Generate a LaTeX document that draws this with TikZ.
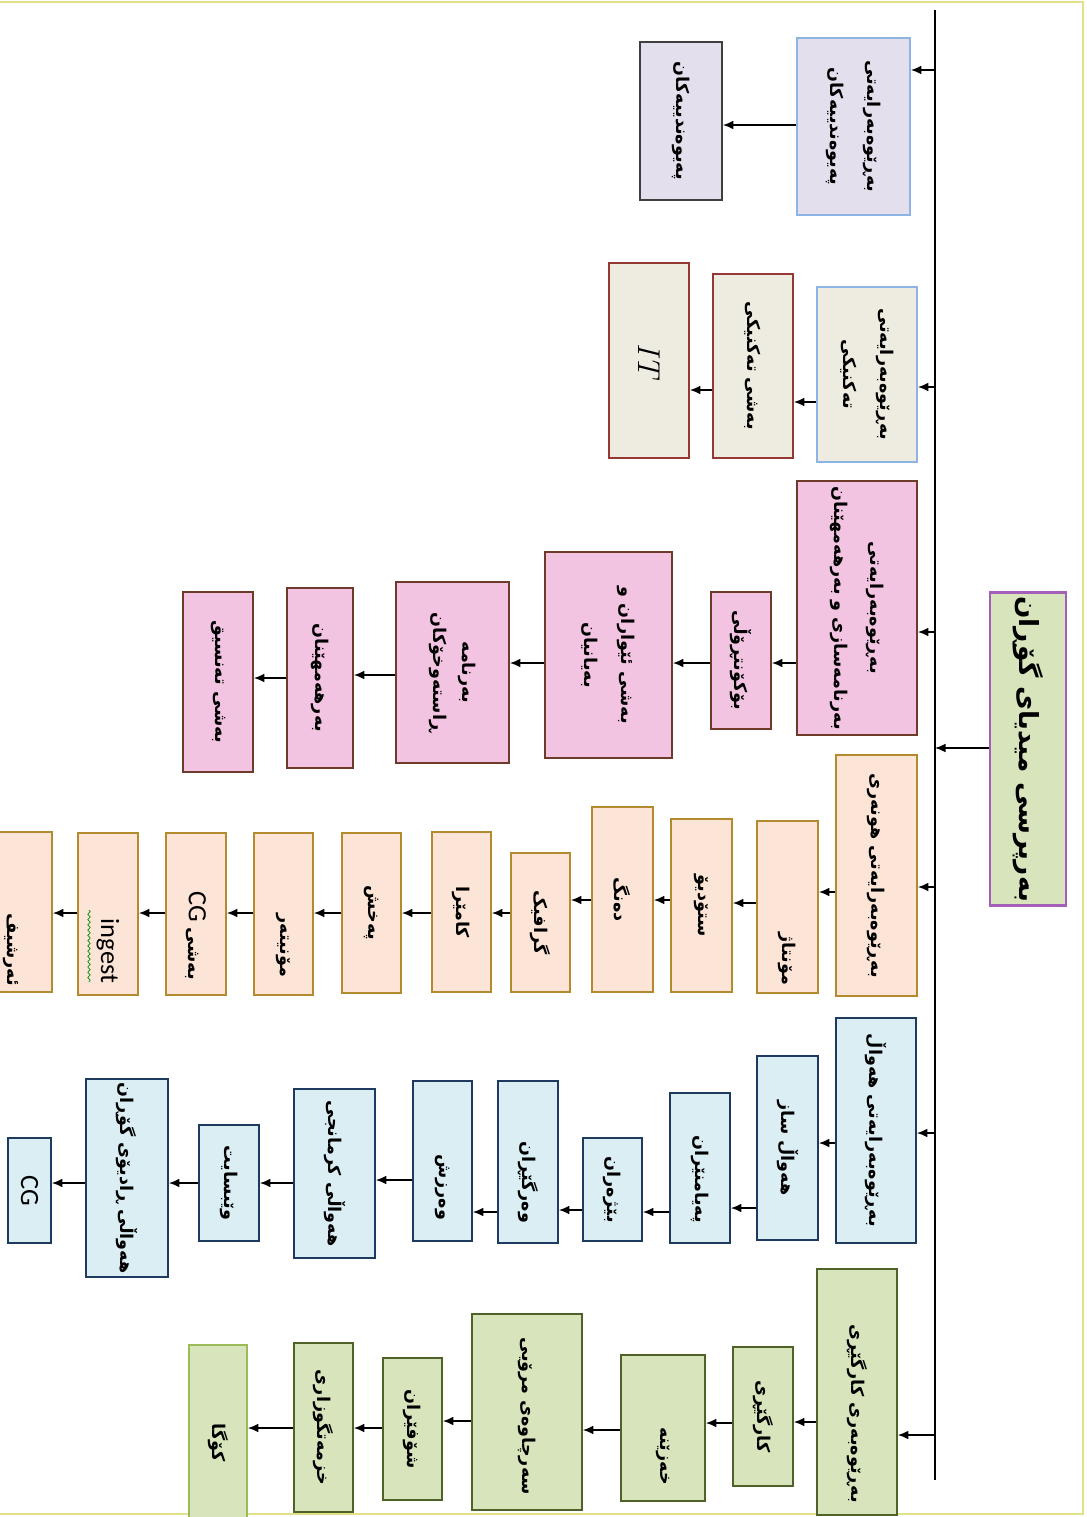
\documentclass[tikz,border=0pt]{standalone}
\usepackage{fontspec}
\usetikzlibrary{arrows.meta,decorations.pathmorphing}
\TeXXeTstate=1
\newfontfamily\kufont[Script=Arabic]{DejaVu Sans}
\newfontfamily\cgfont{Carlito}
\newcommand\ku[1]{\beginR#1\endR}
\newcommand\lat[1]{{\cgfont\mdseries\fontsize{15}{18}\selectfont #1}}
\definecolor{lavfill}{HTML}{E4DFEC}
\definecolor{beigefill}{HTML}{EEECE1}
\definecolor{pinkfill}{HTML}{F2C4E2}
\definecolor{peachfill}{HTML}{FCE4D6}
\definecolor{bluefill}{HTML}{DBEEF4}
\definecolor{greenfill}{HTML}{D7E4BC}
\definecolor{skyline}{HTML}{8DB4E2}
\definecolor{grayline}{HTML}{3F3F3F}
\definecolor{maroonline}{HTML}{953735}
\definecolor{brownline}{HTML}{6E3B2A}
\definecolor{goldline}{HTML}{B38B2E}
\definecolor{navyline}{HTML}{1F3A5F}
\definecolor{oliveline}{HTML}{4F6228}
\definecolor{paleolive}{HTML}{9BBB59}
\definecolor{purpleline}{HTML}{A55FB8}
\definecolor{framecol}{HTML}{E3E08A}
\begin{document}
\begin{tikzpicture}[x=0.02cm, y=-0.02cm,
	cell/.style={draw, rotate=-90, line width=1pt, inner sep=2pt, align=center, font=\kufont\bfseries\fontsize{10}{12}\selectfont},
	sz/.style 2 args={minimum width=#2*0.02cm, minimum height=#1*0.02cm},
	tail/.style={text width=#1, align=right},
	lavbox/.style={cell, fill=lavfill, draw=grayline},
	techbox/.style={cell, fill=beigefill, draw=maroonline},
	progbox/.style={cell, fill=pinkfill, draw=brownline},
	artbox/.style={cell, fill=peachfill, draw=goldline},
	newsbox/.style={cell, fill=bluefill, draw=navyline},
	adminbox/.style={cell, fill=greenfill, draw=oliveline},
	headline/.style={draw=skyline},
	arr/.style={-{Latex[length=6pt,width=5pt]}, line width=0.8pt},
	squig/.style={draw=green!55!black, decorate, decoration={snake, amplitude=0.7pt, segment length=3pt}}]
	\useasboundingbox (0,0) rectangle (1086,1517);
	\clip (0,0) rectangle (1086,1517);
	\draw[framecol, line width=1.2pt] (-10,2) rectangle (1083,1514);
	\coordinate (bustop) at (935,10);
	\coordinate (busend) at (935,1480);
	\draw[line width=1.1pt] (bustop) -- (busend);
	\node[cell, fill=greenfill, draw=purpleline, line width=1.4pt, sz={76}{312}, font=\kufont\bfseries\fontsize{15}{18}\selectfont] (root) at (1028,749) {\ku{بەرپرسی میدیای گۆڕان}};
	\draw[arr] (root.south |- 0,748) -- (bustop |- 0,748);

	\node[lavbox, headline, sz={113}{177}] (h1) at (853.5,126.5) {\ku{بەڕێوەبەرایەتی}\\[9pt]\ku{پەیوەندییەکان}};
	\node[lavbox, sz={82}{158}] (p1) at (681,121) {\ku{پەیوەندییەکان}};
	\draw[arr] (bustop |- 0,70) -- (h1.north |- 0,70);
	\draw[arr] (h1.south |- 0,125) -- (p1.north |- 0,125);

	\node[techbox, headline, sz={100}{175}] (h2) at (867,374.5) {\ku{بەڕێوەبەرایەتی}\\[9pt]\ku{تەکنیکی}};
	\node[techbox, sz={80}{184}] (t1) at (753,366) {\ku{بەشی تەکنیکی}};
	\node[techbox, sz={80}{195}] (it) at (649,360.5) {{\normalfont\itshape\fontsize{18}{20}\selectfont IT}};
	\draw[arr] (bustop |- 0,387) -- (h2.north |- 0,387);
	\draw[arr] (h2.south |- 0,402) -- (t1.north |- 0,402);
	\draw[arr] (t1.south |- 0,390) -- (it.north |- 0,390);

	\node[progbox, sz={120}{254}] (h3) at (857,608) {\ku{بەڕێوەبەرایەتی}\\[9pt]\ku{بەرنامەسازی و بەرهەمهێنان}};
	\node[progbox, sz={60}{137}] (k1) at (741,660.5) {\ku{بۆکۆنتڕۆڵی}};
	\node[progbox, sz={127}{206}] (k2) at (608.5,655) {\ku{بەشی ئێواران و}\\[9pt]\ku{بەیانیان}};
	\node[progbox, sz={113}{181}] (k3) at (452.5,672.5) {\ku{بەرنامە}\\[5pt]\ku{ڕاستەوخۆکان}};
	\node[progbox, sz={66}{180}] (k4) at (320,678) {\ku{بەرهەمهێنان}};
	\node[progbox, sz={70}{180}] (k5) at (218,682) {\ku{بەشی تەنسیق}};
	\draw[arr] (bustop |- 0,632) -- (h3.north |- 0,632);
	\draw[arr] (h3.south |- 0,663) -- (k1.north |- 0,663);
	\draw[arr] (k1.south |- 0,663) -- (k2.north |- 0,663);
	\draw[arr] (k2.south |- 0,663) -- (k3.north |- 0,663);
	\draw[arr] (k3.south |- 0,675) -- (k4.north |- 0,675);
	\draw[arr] (k4.south |- 0,678) -- (k5.north |- 0,678);

	\node[artbox, sz={81}{241}] (h4) at (876.5,875.5) {\ku{بەڕێوەبەرایەتی هونەری}};
	\node[artbox, sz={61}{172}, tail=3.12cm] (o1) at (787.5,907) {\ku{مۆنتاژ}};
	\node[artbox, sz={61}{173}] (o2) at (701.5,905.5) {\ku{ستۆدیۆ}};
	\node[artbox, sz={61}{185}] (o3) at (622.5,899.5) {\ku{دەنگ}};
	\node[artbox, sz={59}{139}] (o4) at (540.5,922.5) {\ku{گرافیک}};
	\node[artbox, sz={59}{160}] (o5) at (461.5,912) {\ku{کامێرا}};
	\node[artbox, sz={59}{160}] (o6) at (371.5,913) {\ku{پەخش}};
	\node[artbox, sz={59}{162}, tail=2.52cm] (o7) at (283.5,914) {\ku{مۆنیتەر}};
	\node[artbox, sz={60}{162}, tail=2.64cm] (o8) at (196,914) {\ku{بەشی \beginL\lat{CG}\endL}};
	\node[artbox, sz={60}{162}, tail=2.76cm] (o9) at (108,914) {\lat{ingest}};
	\node[artbox, sz={82}{160}, tail=2.96cm] (o10) at (11,912) {\ku{ئەرشیف}};
	\draw[squig] ([shift={(-19,-4)}]o9.center) -- ([shift={(-19,68)}]o9.center);
	\draw[arr] (bustop |- 0,887) -- (h4.north |- 0,887);
	\draw[arr] (h4.south |- 0,892) -- (o1.north |- 0,892);
	\draw[arr] (o1.south |- 0,903) -- (o2.north |- 0,903);
	\draw[arr] (o2.south |- 0,900) -- (o3.north |- 0,900);
	\draw[arr] (o3.south |- 0,900) -- (o4.north |- 0,900);
	\draw[arr] (o4.south |- 0,913) -- (o5.north |- 0,913);
	\draw[arr] (o5.south |- 0,913) -- (o6.north |- 0,913);
	\draw[arr] (o6.south |- 0,913) -- (o7.north |- 0,913);
	\draw[arr] (o7.south |- 0,913) -- (o8.north |- 0,913);
	\draw[arr] (o8.south |- 0,913) -- (o9.north |- 0,913);
	\draw[arr] (o9.south |- 0,913) -- (o10.north |- 0,913);

	\node[newsbox, sz={80}{225}] (h5) at (876,1130.5) {\ku{بەڕێوەبەرایەتی هەواڵ}};
	\node[newsbox, sz={61}{184}] (b1) at (787.5,1148) {\ku{هەواڵ ساز}};
	\node[newsbox, sz={60}{150}, tail=2.2cm] (b2) at (700,1168) {\ku{پەیامنێران}};
	\node[newsbox, sz={59}{103}] (b3) at (612.5,1189.5) {\ku{بێژەران}};
	\node[newsbox, sz={60}{162}, tail=2.44cm] (b4) at (528,1162) {\ku{وەرگێڕان}};
	\node[newsbox, sz={59}{160}, tail=2.36cm] (b5) at (442.5,1161) {\ku{وەرزش}};
	\node[newsbox, sz={81}{169}] (b6) at (334.5,1173.5) {\ku{هەواڵی کرمانجی}};
	\node[newsbox, sz={60}{116}] (b7) at (229,1183) {\ku{وێبسایت}};
	\node[newsbox, sz={82}{194}] (b8) at (127,1178) {\ku{هەواڵی ڕادیۆی گۆڕان}};
	\node[newsbox, sz={43}{105}] (b9) at (29.5,1190.5) {\lat{CG}};
	\draw[arr] (bustop |- 0,1133) -- (h5.north |- 0,1133);
	\draw[arr] (h5.south |- 0,1143) -- (b1.north |- 0,1143);
	\draw[arr] (b1.south |- 0,1208) -- (b2.north |- 0,1208);
	\draw[arr] (b2.south |- 0,1212) -- (b3.north |- 0,1212);
	\draw[arr] (b3.south |- 0,1210) -- (b4.north |- 0,1210);
	\draw[arr] (b4.south |- 0,1212) -- (b5.north |- 0,1212);
	\draw[arr] (b5.south |- 0,1180) -- (b6.north |- 0,1180);
	\draw[arr] (b6.south |- 0,1183) -- (b7.north |- 0,1183);
	\draw[arr] (b7.south |- 0,1183) -- (b8.north |- 0,1183);
	\draw[arr] (b8.south |- 0,1183) -- (b9.north |- 0,1183);

	\node[adminbox, sz={80}{246}, tail=4.44cm] (h6) at (857,1392) {\ku{بەڕێوەبەری کارگێڕی}};
	\node[adminbox, sz={60}{139}] (g1) at (763,1416.5) {\ku{کارگێڕی}};
	\node[adminbox, sz={84}{146}, tail=2.28cm] (g2) at (663,1428) {\ku{خەزێنە}};
	\node[adminbox, sz={110}{196}, tail=3.32cm] (g3) at (527,1412) {\ku{سەرچاوەی مرۆیی}};
	\node[adminbox, sz={59}{142}] (g4) at (412.5,1429) {\ku{شۆفێران}};
	\node[adminbox, sz={59}{169}] (g5) at (323.5,1427.5) {\ku{خزمەتگوزاری}};
	\node[adminbox, draw=paleolive, sz={58}{195}] (g6) at (218,1442.5) {\ku{کۆگا}};
	\draw[arr] (bustop |- 0,1435) -- (h6.north |- 0,1435);
	\draw[arr] (h6.south |- 0,1422) -- (g1.north |- 0,1422);
	\draw[arr] (g1.south |- 0,1423) -- (g2.north |- 0,1423);
	\draw[arr] (g2.south |- 0,1430) -- (g3.north |- 0,1430);
	\draw[arr] (g3.south |- 0,1421) -- (g4.north |- 0,1421);
	\draw[arr] (g4.south |- 0,1428) -- (g5.north |- 0,1428);
	\draw[arr] (g5.south |- 0,1428) -- (g6.north |- 0,1428);
\end{tikzpicture}
\end{document}
